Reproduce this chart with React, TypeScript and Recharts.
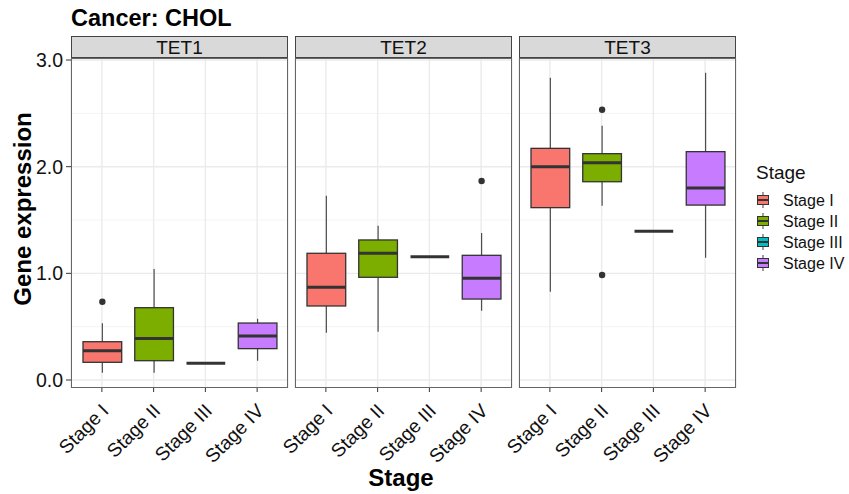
import React from 'react';
import { ComposedChart, Bar, XAxis, YAxis, CartesianGrid } from 'recharts';

const stages = ['Stage I', 'Stage II', 'Stage III', 'Stage IV'];
const stageColors = ['#F8766D', '#7CAE00', '#00BFC4', '#C77CFF'];
const genes = ['TET1', 'TET2', 'TET3'];
const yTicks = [0, 1, 2, 3];
const yMinorTicks = [0.5, 1.5, 2.5];
const yDomain = [-0.075, 3.019];

const tet1Lower = [0.069, 0.069, 0.156, 0.181];
const tet1Q1 = [0.166, 0.181, 0.156, 0.294];
const tet1Median = [0.275, 0.388, 0.156, 0.413];
const tet1Q3 = [0.359, 0.678, 0.156, 0.534];
const tet1Upper = [0.531, 1.041, 0.156, 0.575];
const tet1Outliers = [[0.734], [], [], []];

const tet2Lower = [0.444, 0.453, 1.156, 0.65];
const tet2Q1 = [0.694, 0.963, 1.156, 0.759];
const tet2Median = [0.869, 1.188, 1.156, 0.953];
const tet2Q3 = [1.188, 1.313, 1.156, 1.169];
const tet2Upper = [1.728, 1.447, 1.156, 1.378];
const tet2Outliers = [[], [], [], [1.866]];

const tet3Lower = [0.828, 1.634, 1.394, 1.147];
const tet3Q1 = [1.616, 1.859, 1.394, 1.64];
const tet3Median = [2.0, 2.038, 1.394, 1.8];
const tet3Q3 = [2.172, 2.122, 1.394, 2.141];
const tet3Upper = [2.834, 2.384, 1.394, 2.881];
const tet3Outliers = [[], [2.534, 0.984], [], []];

const FONT = '"Liberation Sans", Arial, Helvetica, sans-serif';
const TEXT = '#111111';
const LINE = '#333333';

function buildRows(lower: number[], q1: number[], med: number[], q3: number[], upper: number[], outl: number[][]) {
  return stages.map((s, i) => ({
    stage: s,
    lower: lower[i],
    q1: q1[i],
    median: med[i],
    q3: q3[i],
    upper: upper[i],
    outliers: outl[i],
    color: stageColors[i],
  }));
}

const panelData = [
  buildRows(tet1Lower, tet1Q1, tet1Median, tet1Q3, tet1Upper, tet1Outliers),
  buildRows(tet2Lower, tet2Q1, tet2Median, tet2Q3, tet2Upper, tet2Outliers),
  buildRows(tet3Lower, tet3Q1, tet3Median, tet3Q3, tet3Upper, tet3Outliers),
];

// layout
const PANEL_LEFTS = [71, 295, 519];
const PANEL_W = 217;
const PANEL_TOP = 58;
const PANEL_H = 330;
const STRIP_TOP = 36;
const Y_AXIS_W = 71;
const X_AXIS_H = 100;
const M_TOP = 20;
const M_LEFT = 60;

const BoxShape = (props: any) => {
  const { x, y, width, height, payload } = props;
  if (payload == null || !isFinite(y) || !isFinite(height)) return null;
  const unit = height / payload.upper;
  const zero = y + height;
  const py = (v: number) => zero - v * unit;
  const cx = x + width / 2;
  const top = py(payload.q3);
  const bot = py(payload.q1);
  return (
    <g>
      <line x1={cx} x2={cx} y1={py(payload.upper)} y2={top} stroke="#4D4D4D" strokeWidth={1.2} />
      <line x1={cx} x2={cx} y1={bot} y2={py(payload.lower)} stroke="#4D4D4D" strokeWidth={1.2} />
      <rect x={x} y={top} width={width} height={Math.max(0, bot - top)} fill={payload.color} stroke={LINE} strokeWidth={1.3} />
      <line x1={x} x2={x + width} y1={py(payload.median)} y2={py(payload.median)} stroke={LINE} strokeWidth={3} />
      {payload.outliers.map((o: number, k: number) => (
        <circle key={k} cx={cx} cy={py(o)} r={3.2} fill={LINE} />
      ))}
    </g>
  );
};

const RotTick = (props: any) => {
  const { x, y, payload } = props;
  const ax = x + 8;
  const ay = y + 18;
  return (
    <text
      x={ax}
      y={ay}
      transform={`rotate(-45 ${ax} ${ay})`}
      textAnchor="end"
      fontSize={19.2}
      fontFamily={FONT}
      fill={TEXT}
    >
      {payload.value}
    </text>
  );
};

const Panel = ({ index }: { index: number }) => {
  const showY = index === 0;
  const leftPad = showY ? Y_AXIS_W : M_LEFT;
  const w = PANEL_W + leftPad + 10;
  const left = PANEL_LEFTS[index] - leftPad;
  return (
    <div style={{ position: 'absolute', left, top: PANEL_TOP - M_TOP }}>
      <ComposedChart
        width={w}
        height={PANEL_H + X_AXIS_H + M_TOP}
        data={panelData[index]}
        margin={{ top: M_TOP, right: 10, bottom: 0, left: showY ? 0 : M_LEFT }}
      >
        <CartesianGrid horizontalValues={yMinorTicks} vertical={false} stroke="#F3F3F3" strokeWidth={0.9} />
        <CartesianGrid horizontalValues={yTicks} stroke="#EBEBEB" strokeWidth={1.4} />
        <XAxis
          dataKey="stage"
          type="category"
          padding={{ left: 5, right: 5 }}
          height={X_AXIS_H}
          axisLine={false}
          tickLine={{ stroke: LINE, strokeWidth: 1 }}
          tickSize={4}
          tick={<RotTick />}
          interval={0}
        />
        <YAxis
          type="number"
          domain={yDomain}
          allowDataOverflow
          ticks={yTicks}
          hide={!showY}
          width={Y_AXIS_W}
          axisLine={false}
          tickLine={{ stroke: LINE, strokeWidth: 1 }}
          tickSize={5}
          tickMargin={3}
          tickFormatter={(v: number) => v.toFixed(1)}
          tick={{ fontSize: 19.5, fontFamily: FONT, fill: TEXT }}
        />
        <Bar dataKey="upper" barSize={38.7} shape={<BoxShape />} isAnimationActive={false} />
      </ComposedChart>
    </div>
  );
};

export default function App() {
  const yMid = 209;
  return (
    <div style={{ position: 'absolute', left: 0, top: 0, width: 849, height: 494, background: '#fff', overflow: 'hidden' }}>
      <svg width={849} height={494} style={{ position: 'absolute', left: 0, top: 0 }}>
        <text x={71} y={26} fontSize={23.5} fontWeight="bold" fontFamily={FONT} fill="#000">
          Cancer: CHOL
        </text>
        {genes.map((g, i) => (
          <g key={g}>
            <rect x={PANEL_LEFTS[i] + 0.5} y={STRIP_TOP + 0.5} width={PANEL_W - 1} height={PANEL_TOP - STRIP_TOP - 1} fill="#D9D9D9" stroke="#444" strokeWidth={1} />
            <text x={PANEL_LEFTS[i] + PANEL_W / 2} y={STRIP_TOP + 17.5} textAnchor="middle" fontSize={19} fontFamily={FONT} fill={TEXT}>
              {g}
            </text>
          </g>
        ))}
        <text
          x={22}
          y={yMid}
          transform={`rotate(-90 22 ${yMid})`}
          textAnchor="middle"
          dominantBaseline="central"
          fontSize={24}
          fontWeight="bold"
          fontFamily={FONT}
          fill="#000"
        >
          Gene expression
        </text>
        <text x={401} y={486} textAnchor="middle" fontSize={24} fontWeight="bold" fontFamily={FONT} fill="#000">
          Stage
        </text>
        <g>
          <text x={756} y={179} fontSize={19} fontFamily={FONT} fill={TEXT}>
            Stage
          </text>
          {stages.map((s, i) => {
            const cy = 200 + i * 21;
            return (
              <g key={s}>
                <line x1={763} x2={763} y1={cy - 8} y2={cy + 8} stroke="#4D4D4D" strokeWidth={1.1} />
                <rect x={757.5} y={cy - 4.5} width={11} height={9} fill={stageColors[i]} stroke={LINE} strokeWidth={1} />
                <line x1={757.5} x2={768.5} y1={cy} y2={cy} stroke={LINE} strokeWidth={2} />
                <text x={783} y={cy} dominantBaseline="central" fontSize={16} fontFamily={FONT} fill={TEXT}>
                  {s}
                </text>
              </g>
            );
          })}
        </g>
      </svg>
      {genes.map((g, i) => (
        <Panel key={g} index={i} />
      ))}
      <svg width={849} height={494} style={{ position: 'absolute', left: 0, top: 0, pointerEvents: 'none' }}>
        {genes.map((g, i) => (
          <rect key={g} x={PANEL_LEFTS[i] + 0.5} y={PANEL_TOP + 0.5} width={PANEL_W - 1} height={PANEL_H - 1} fill="none" stroke="#666" strokeWidth={1} />
        ))}
      </svg>
    </div>
  );
}
